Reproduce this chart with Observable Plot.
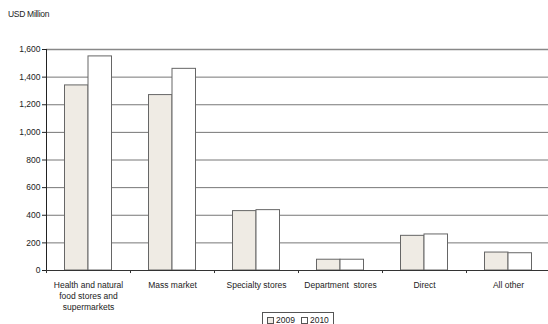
<!DOCTYPE html>
<html><head><meta charset="utf-8">
<script src="https://cdn.jsdelivr.net/npm/d3@7"></script>
<script src="https://cdn.jsdelivr.net/npm/@observablehq/plot@0.6"></script>
<style>
body{margin:0;background:#fff;font-family:"Liberation Sans",Arial,sans-serif;}
#wrap{position:relative;width:548px;height:324px;overflow:hidden;}
#title{position:absolute;left:8px;top:9px;font-size:8.5px;color:#222;letter-spacing:-0.3px;}
#chart{position:absolute;left:0;top:0;}
#legend{position:absolute;left:262px;top:312px;border:1px solid #555;padding:1px 4px;font-size:8.5px;color:#222;display:flex;gap:6px;align-items:center;height:12px;background:#fff;}
.sw{display:inline-block;width:5px;height:5px;border:1px solid #555;margin-right:2px;vertical-align:middle;}
</style></head><body>
<div id="wrap">
<div id="chart"></div>
<div id="title">USD Million</div>
<div id="legend"><span><span class="sw" style="background:#efebe4"></span>2009</span><span><span class="sw" style="background:#fff"></span>2010</span></div>
</div>
<script>
const categories = ["Health and natural\nfood stores and\nsupermarkets","Mass market","Specialty stores","Department  stores","Direct","All other"];
const values2009 = [1340,1270,430,78,251,130];
const values2010 = [1550,1460,437,78,261,125];
const yTicks = [0,200,400,600,800,1000,1200,1400,1600];

const d09 = categories.map((c,i)=>({cat:c, v:values2009[i]}));
const d10 = categories.map((c,i)=>({cat:c, v:values2010[i]}));
const half = 42, barW = 23.5;

const chart = Plot.plot({
  width: 548, height: 324,
  marginTop: 49, marginBottom: 54, marginLeft: 46, marginRight: -2,
  style: {fontFamily: '"Liberation Sans", Arial, sans-serif', fontSize: "8.5px", color: "#222"},
  x: {domain: categories, range: [46, 550], padding: 0, axis: null},
  y: {domain: [0,1600], range: [270, 49], axis: null},
  marks: [
    Plot.ruleY(yTicks.filter(t=>t>0), {y: d=>d, stroke: "#777", strokeWidth: 1}),
    Plot.ruleY([1600], {stroke: "#888", strokeWidth: 1.5}),
    Plot.barY(d09, {x: "cat", y: "v", fill: "#efebe4", stroke: "#666", strokeWidth: 1, insetLeft: half-barW, insetRight: half}),
    Plot.barY(d10, {x: "cat", y: "v", fill: "#ffffff", stroke: "#666", strokeWidth: 1, insetLeft: half, insetRight: half-barW}),
    Plot.ruleY([0], {stroke: "#333", strokeWidth: 1}),
    Plot.frame({anchor: "left", stroke: "#222"}),
    Plot.ruleX(categories, {x: d=>d, dx: -half, y1: 0, y2: -22, stroke: "#333"}),
    Plot.ruleX([categories[categories.length-1]], {x: d=>d, dx: half, y1: 0, y2: -22, stroke: "#333"}),
    Plot.axisY({ticks: yTicks, tickFormat: d3.format(","), tickSize: 4, tickPadding: 2, stroke: "#222", fontSize: 8.5, label: null}),
    Plot.text(categories, {x: d=>d, y: 0, dy: 10, text: d=>d, lineAnchor: "top", fontSize: 8.5, fill: "#222", lineHeight: 1.3})
  ]
});
document.getElementById("chart").appendChild(chart);
</script>
</body></html>
